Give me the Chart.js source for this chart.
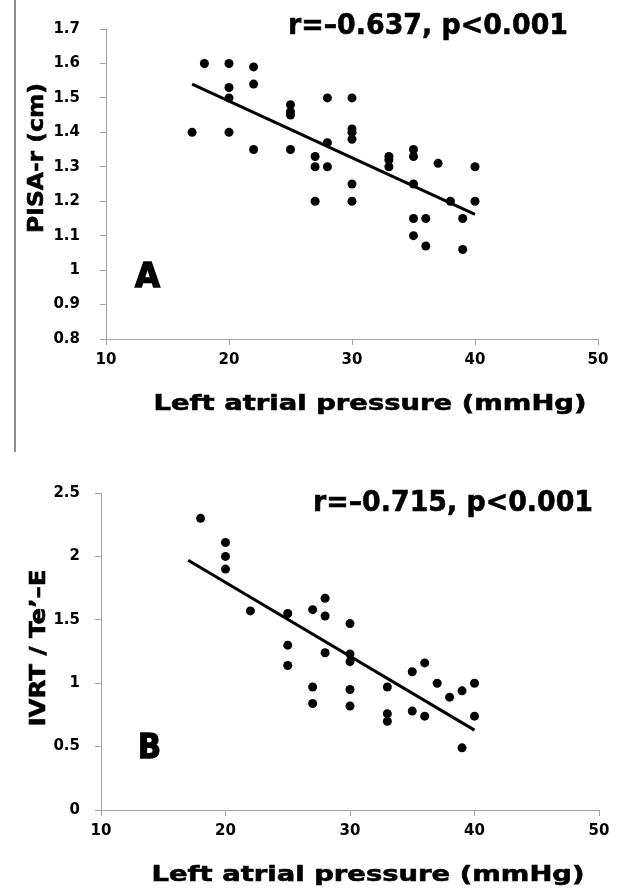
<!DOCTYPE html>
<html>
<head>
<meta charset="utf-8">
<script src="https://cdn.jsdelivr.net/npm/chart.js@4.4.1/dist/chart.umd.min.js"></script>
<style>
  html, body { margin: 0; padding: 0; background: #fff; }
  body { width: 622px; height: 891px; position: relative; overflow: hidden; }
  canvas { position: absolute; left: 0; }
  #chartA { top: 0; }
  #chartB { top: 455px; }
  .edge { position: absolute; left: 14px; top: 0; width: 2px; height: 452px; background: #8c8c8c; }
</style>
</head>
<body>
<div class="edge"></div>
<canvas id="chartA" width="622" height="455"></canvas>
<canvas id="chartB" width="622" height="436"></canvas>
<script>
// shared x axis
const xTicks = [10, 20, 30, 40, 50];

// panel A: PISA-r vs left atrial pressure
const pisaX = [17, 18, 20, 20, 20, 20, 22, 22, 22, 25, 25, 25, 25, 27, 27, 27, 28, 28, 28,
  30, 30, 30, 30, 30, 30, 33, 33, 33, 35, 35, 35, 35, 35, 36, 36, 37, 38, 39, 39, 40, 40];
const pisaY = [1.4, 1.6, 1.6, 1.53, 1.5, 1.4, 1.59, 1.54, 1.35, 1.48, 1.46, 1.45, 1.35, 1.33, 1.3, 1.2, 1.5, 1.37, 1.3,
  1.5, 1.41, 1.4, 1.38, 1.25, 1.2, 1.33, 1.32, 1.3, 1.35, 1.33, 1.25, 1.15, 1.1, 1.15, 1.07, 1.31, 1.2, 1.15, 1.06, 1.3, 1.2];
const pisaTrendX = [17, 40];
const pisaTrendY = [1.54, 1.162];
const yTicksA = [0.8, 0.9, 1, 1.1, 1.2, 1.3, 1.4, 1.5, 1.6, 1.7];

// panel B: IVRT / Te'-E vs left atrial pressure
const ivrtX = [18, 20, 20, 20, 22, 25, 25, 25, 27, 27, 27, 28, 28, 28, 30, 30, 30, 30, 30,
  33, 33, 33, 35, 35, 36, 36, 37, 38, 39, 39, 40, 40];
const ivrtY = [2.3, 2.11, 2.0, 1.9, 1.57, 1.55, 1.3, 1.14, 1.58, 0.97, 0.84, 1.67, 1.53, 1.24, 1.47, 1.23, 1.17, 0.95, 0.82,
  0.97, 0.76, 0.7, 1.09, 0.78, 1.16, 0.74, 1.0, 0.89, 0.94, 0.49, 1.0, 0.74];
const ivrtTrendX = [17, 40];
const ivrtTrendY = [1.97, 0.63];
const yTicksB = [0, 0.5, 1, 1.5, 2, 2.5];

const FONT = '"DejaVu Sans", "Liberation Sans", Arial, sans-serif';
const AXIS_GREY = '#a3a3a3';

const toPoints = (xs, ys) => xs.map((x, i) => ({ x, y: ys[i] }));

// draws bold labels squeezed/stretched to a given width (the original uses Arial Black)
const panelText = {
  id: 'panelText',
  afterDraw(chart, args, opts) {
    const ctx = chart.ctx;
    (opts.items || []).forEach((it) => {
      ctx.save();
      ctx.font = `bold ${it.size}px ${FONT}`;
      const w = ctx.measureText(it.text).width;
      ctx.translate(it.x, it.y);
      if (it.rotate) ctx.rotate(it.rotate);
      ctx.scale(it.width ? it.width / w : 1, 1);
      ctx.textAlign = it.align || 'left';
      ctx.textBaseline = 'alphabetic';
      ctx.fillStyle = '#000';
      ctx.fillText(it.text, 0, 0);
      if (it.stroke) {
        ctx.strokeStyle = '#000';
        ctx.lineWidth = it.stroke;
        ctx.strokeText(it.text, 0, 0);
      }
      ctx.restore();
    });
  },
};

function makeChart(el, cfg) {
  return new Chart(el, {
    type: 'scatter',
    data: {
      datasets: [
        {
          data: toPoints(cfg.xs, cfg.ys),
          backgroundColor: '#000',
          borderWidth: 0,
          pointRadius: 4.5,
        },
        {
          data: toPoints(cfg.trendX, cfg.trendY),
          showLine: true,
          borderColor: '#000',
          borderWidth: 3,
          pointRadius: 0,
        },
      ],
    },
    options: {
      responsive: false,
      animation: false,
      devicePixelRatio: 1,
      layout: { padding: cfg.padding },
      plugins: {
        legend: { display: false },
        tooltip: { enabled: false },
        panelText: { items: cfg.texts },
      },
      scales: {
        x: {
          type: 'linear',
          min: 10,
          max: 50,
          afterFit: (s) => { s.height = cfg.xAxisHeight; },
          afterBuildTicks: (s) => { s.ticks = xTicks.map((v) => ({ value: v })); },
          grid: { drawOnChartArea: false, drawTicks: true, tickLength: 6, color: AXIS_GREY },
          border: { color: AXIS_GREY, width: 1 },
          ticks: { color: '#000', padding: 6, font: { family: FONT, size: 15, weight: 'bold' }, callback: (v) => String(v) },
        },
        y: {
          type: 'linear',
          min: cfg.yTicks[0],
          max: cfg.yTicks[cfg.yTicks.length - 1],
          afterFit: (s) => { s.width = cfg.yAxisWidth; },
          afterBuildTicks: (s) => { s.ticks = cfg.yTicks.map((v) => ({ value: v })); },
          grid: { drawOnChartArea: false, drawTicks: true, tickLength: 6, color: AXIS_GREY },
          border: { color: AXIS_GREY, width: 1 },
          ticks: { color: '#000', padding: cfg.yPad, font: { family: FONT, size: 15, weight: 'bold' }, callback: (v) => String(v) },
        },
      },
    },
    plugins: [panelText],
  });
}

makeChart(document.getElementById('chartA'), {
  xs: pisaX, ys: pisaY, trendX: pisaTrendX, trendY: pisaTrendY, yTicks: yTicksA,
  padding: { left: 0, right: 24, top: 16, bottom: 0 },
  xAxisHeight: 116, yAxisWidth: 106, yPad: 20,
  texts: [
    { text: 'r=–0.637, p<0.001', x: 288, y: 34, size: 28, width: 280, stroke: 0.6 },
    { text: 'A', x: 135, y: 287, size: 33, width: 25, stroke: 1.5 },
    { text: 'PISA-r (cm)', x: 43, y: 158, size: 22, width: 150, rotate: -Math.PI / 2, align: 'center', stroke: 0.6 },
    { text: 'Left atrial pressure (mmHg)', x: 370, y: 410, size: 22, width: 433, align: 'center', stroke: 0.6 },
  ],
});

makeChart(document.getElementById('chartB'), {
  xs: ivrtX, ys: ivrtY, trendX: ivrtTrendX, trendY: ivrtTrendY, yTicks: yTicksB,
  padding: { left: 0, right: 23, top: 38, bottom: 0 },
  xAxisHeight: 81, yAxisWidth: 101, yPad: 15,
  texts: [
    { text: 'r=–0.715, p<0.001', x: 313, y: 56, size: 28, width: 280, stroke: 0.6 },
    { text: 'B', x: 138, y: 303, size: 33, width: 23, stroke: 1.5 },
    { text: 'IVRT / Te’–E', x: 45, y: 193, size: 22, width: 157, rotate: -Math.PI / 2, align: 'center', stroke: 0.6 },
    { text: 'Left atrial pressure (mmHg)', x: 368, y: 426, size: 22, width: 433, align: 'center', stroke: 0.6 },
  ],
});
</script>
</body>
</html>
